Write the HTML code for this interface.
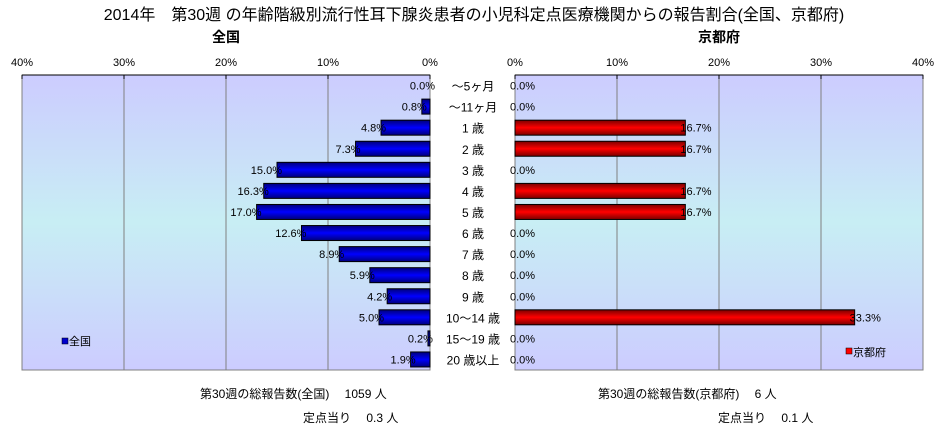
<!DOCTYPE html>
<html><head><meta charset="utf-8">
<style>
body{margin:0;background:#fff;width:949px;height:433px;overflow:hidden;font-family:"Liberation Sans","Noto Sans CJK JP",sans-serif;}
svg text{font-family:"Liberation Sans","Noto Sans CJK JP",sans-serif;}
</style></head><body>
<svg width="949" height="433">
<defs>
<linearGradient id="bg" x1="0" y1="0" x2="0" y2="1">
<stop offset="0" stop-color="#ccccff"/><stop offset="0.5" stop-color="#c8eef4"/><stop offset="1" stop-color="#ccccff"/>
</linearGradient>
<linearGradient id="gb" x1="0" y1="0" x2="0" y2="1">
<stop offset="0" stop-color="#00007a"/><stop offset="0.5" stop-color="#0000ff"/><stop offset="1" stop-color="#00007a"/>
</linearGradient>
<linearGradient id="gr" x1="0" y1="0" x2="0" y2="1">
<stop offset="0" stop-color="#7a0000"/><stop offset="0.5" stop-color="#ff0000"/><stop offset="1" stop-color="#7a0000"/>
</linearGradient>
</defs>
<text x="474" y="20" font-size="16" text-anchor="middle">2014年　第30週 の年齢階級別流行性耳下腺炎患者の小児科定点医療機関からの報告割合(全国、京都府)</text>
<text x="226" y="42" font-size="14" font-weight="bold" text-anchor="middle">全国</text>
<text x="719" y="42" font-size="14" font-weight="bold" text-anchor="middle">京都府</text>
<g id="L"></g><g id="R"></g><g id="C"></g>
<rect x="62" y="338" width="6" height="6" fill="#0000cc" stroke="#000" stroke-width="0.5"/>
<text x="69" y="345" font-size="11">全国</text>
<rect x="846" y="348" width="6" height="6" fill="#ff0000" stroke="#000" stroke-width="0.5"/>
<text x="853" y="356" font-size="11">京都府</text>
<text x="200" y="398" font-size="12">第30週の総報告数(全国)　 1059 人</text>
<text x="303" y="422" font-size="12">定点当り　 0.3 人</text>
<text x="598" y="398" font-size="12">第30週の総報告数(京都府)　 6 人</text>
<text x="718" y="422" font-size="12">定点当り　 0.1 人</text>
</svg>
<script>
const categories=["～5ヶ月","～11ヶ月","1 歳","2 歳","3 歳","4 歳","5 歳","6 歳","7 歳","8 歳","9 歳","10～14 歳","15～19 歳","20 歳以上"];
const nationalValues=[0.0,0.8,4.8,7.3,15.0,16.3,17.0,12.6,8.9,5.9,4.2,5.0,0.2,1.9];
const kyotoValues=[0.0,0.0,16.7,16.7,0.0,16.7,16.7,0.0,0.0,0.0,0.0,33.3,0.0,0.0];
const tickValues=[0,10,20,30,40];
const NS="http://www.w3.org/2000/svg";
const top_=75,bot=370,rowH=(bot-top_)/categories.length,barH=15;
function mk(t,a,p){const e=document.createElementNS(NS,t);for(const k in a)e.setAttribute(k,a[k]);p.appendChild(e);return e;}
function panel(g,x0,dir,vals,fill,name){
  const w=408, sx=v=>x0+dir*v/40*w;
  const left=Math.min(sx(0),sx(40));
  const bg=mk('rect',{x:left,y:top_,width:w,height:bot-top_,fill:'url(#bg)',stroke:'#808080'},g);
  
  
  tickValues.forEach(t=>{
    const x=sx(t);
    if(t>0&&t<40){const l=mk('line',{x1:x,x2:x,y1:top_,y2:bot,stroke:'#808080'},g);
      
      }
    const tk=mk('line',{x1:x,x2:x,y1:top_,y2:top_+4,stroke:'#000'},g);
    
    
    const tx=mk('text',{x:x,y:66,'font-size':11,'text-anchor':'middle'},g);tx.textContent=t+'%';
    
    
  });
  mk('line',{x1:left,x2:left+w,y1:top_,y2:top_,stroke:'#000'},g);
  vals.forEach((v,i)=>{
    const cy=top_+rowH*(i+0.5);
    const x1=sx(0),x2=sx(v);
    if(v>0){const r=mk('rect',{x:Math.min(x1,x2),y:cy-barH/2,width:Math.abs(x2-x1),height:barH,fill:fill,stroke:'#000'},g);
      
      }
    const lx=v>0?x2-dir*5:x1-dir*5;
    const t=mk('text',{x:lx,y:cy+4,'font-size':11,'text-anchor':dir<0?'end':'start',fill:'#000'},g);
    t.textContent=v.toFixed(1)+'%';
    
    
  });
}
panel(document.getElementById('L'),430,-1,nationalValues,'url(#gb)','national');
panel(document.getElementById('R'),515,1,kyotoValues,'url(#gr)','kyoto');
const C=document.getElementById('C');
categories.forEach((c,i)=>{
  const t=mk('text',{x:473,y:top_+rowH*(i+0.5)+5,'font-size':12,'text-anchor':'middle'},C);
  t.textContent=c;
  
  
});
</script>
</body></html>
